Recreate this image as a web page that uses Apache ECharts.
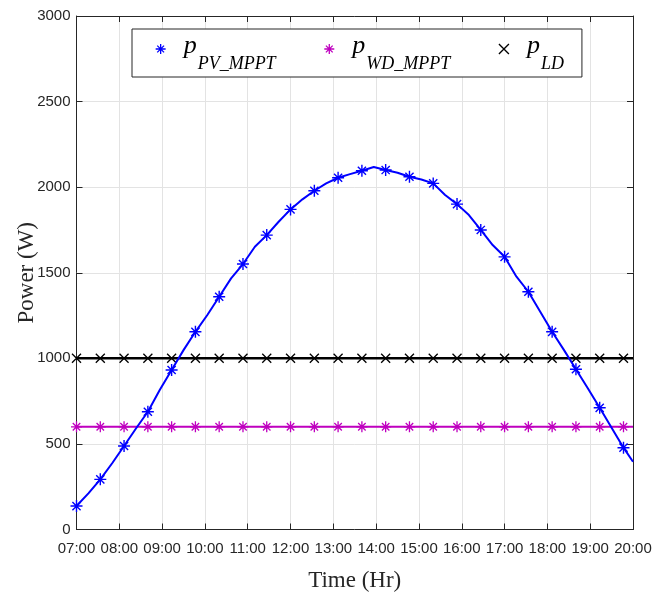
<!DOCTYPE html>
<html>
<head>
<meta charset="utf-8">
<script src="https://cdn.jsdelivr.net/npm/echarts@6/dist/echarts.min.js"></script>
<style>
html,body{margin:0;padding:0;background:#fff;}
#chart{width:652px;height:593px;}
</style>
</head>
<body>
<div id="chart"></div>
<script>
// ---- data (time in hours, power in W) ----
var xTickLabels = ['07:00','08:00','09:00','10:00','11:00','12:00','13:00','14:00','15:00','16:00','17:00','18:00','19:00','20:00'];
var yTickValues = [0, 500, 1000, 1500, 2000, 2500, 3000];

var markerTimes = [7.000, 7.556, 8.111, 8.667, 9.222, 9.778, 10.333, 10.889, 11.444, 12.000, 12.556, 13.111,
                   13.667, 14.222, 14.778, 15.333, 15.889, 16.444, 17.000, 17.556, 18.111, 18.667, 19.222, 19.778];
var pvAtMarkers = [137, 293, 488, 688, 932, 1155, 1360, 1551, 1720, 1870, 1979, 2055,
                   2096, 2100, 2061, 2022, 1901, 1750, 1593, 1389, 1155, 936, 711, 478];
var midTimes = [7.278, 7.833, 8.389, 8.944, 9.500, 10.056, 10.611, 11.167, 11.722, 12.278, 12.833, 13.389,
                13.944, 14.500, 15.056, 15.611, 16.167, 16.722, 17.278, 17.833, 18.389, 18.944, 19.500, 20.000];
var pvAtMids = [211, 387, 590, 815, 1048, 1253, 1467, 1652, 1798, 1929, 2022, 2076,
                2118, 2084, 2045, 1954, 1837, 1662, 1477, 1272, 1048, 825, 595, 396];
var wdAtMarkers = [600, 600, 600, 600, 600, 600, 600, 600, 600, 600, 600, 600,
                   600, 600, 600, 600, 600, 600, 600, 600, 600, 600, 600, 600];
var ldAtMarkers = [1000, 1000, 1000, 1000, 1000, 1000, 1000, 1000, 1000, 1000, 1000, 1000,
                   1000, 1000, 1000, 1000, 1000, 1000, 1000, 1000, 1000, 1000, 1000, 1000];
var endTime = 20.0;
var wdEnd = 600;
var ldEnd = 1000;
var seriesNames = ['p_PV_MPPT', 'p_WD_MPPT', 'p_LD'];

// ---- build ----
var STAR = 'path://M5,0L5,10M0,5L10,5M1.6,1.6L8.4,8.4M1.6,8.4L8.4,1.6';
var CROSS = 'path://M0,0L10,10M0,10L10,0';

function merge(mt, mv, ot, ov, sym) {
  var pts = [];
  mt.forEach(function (t, i) { pts.push({ value: [t, mv[i]], symbol: sym }); });
  ot.forEach(function (t, i) { pts.push({ value: [t, ov[i]], symbol: 'none' }); });
  pts.sort(function (a, b) { return a.value[0] - b.value[0]; });
  return pts;
}
var pvData = merge(markerTimes, pvAtMarkers, midTimes, pvAtMids, STAR);
var wdData = merge(markerTimes, wdAtMarkers, [endTime], [wdEnd], STAR);
var ldData = merge(markerTimes, ldAtMarkers, [endTime], [ldEnd], CROSS);

var BLUE = '#0000ff', MAG = '#bf00bf', BLK = '#000000';
var tickFont = '"Liberation Sans", Arial, sans-serif';
var serif = '"Liberation Serif", "Times New Roman", serif';

var chart = echarts.init(document.getElementById('chart'), null, { renderer: 'canvas' });
var axisLineStyle = { color: '#262626', width: 1 };
var option = {
  animation: false,
  backgroundColor: '#fff',
  grid: { left: 76.5, right: 19, top: 16, bottom: 63.5, containLabel: false, outerBoundsMode: 'none' },
  legend: {
    left: 132, top: 29,
    orient: 'horizontal',
    backgroundColor: '#fff',
    borderColor: '#262626', borderWidth: 1,
    padding: [4, 18, 4, 23],
    itemGap: 48,
    itemWidth: 10, itemHeight: 10,
    data: [
      { name: seriesNames[0], icon: STAR, itemStyle: { color: BLUE, borderColor: BLUE, borderWidth: 1.3 } },
      { name: seriesNames[1], icon: STAR, itemStyle: { color: MAG, borderColor: MAG, borderWidth: 1.3 } },
      { name: seriesNames[2], icon: CROSS, itemStyle: { color: BLK, borderColor: BLK, borderWidth: 1.3 } }
    ],
    formatter: function (n) { return '{p|p}{s|' + n.slice(2) + '}'; },
    textStyle: {
      rich: {
        p: { fontFamily: serif, fontStyle: 'italic', fontSize: 26, color: '#000', padding: [8, 1, 14, 13], verticalAlign: 'bottom' },
        s: { fontFamily: serif, fontStyle: 'italic', fontSize: 18, color: '#000', verticalAlign: 'bottom' }
      }
    }
  },
  xAxis: [{
    type: 'value', min: 7, max: 20, interval: 1, position: 'bottom',
    name: 'Time (Hr)', nameLocation: 'middle', nameGap: 40, nameMoveOverlap: false,
    nameTextStyle: { fontFamily: serif, fontSize: 23, color: '#262626' },
    axisLine: { onZero: false, lineStyle: axisLineStyle },
    axisTick: { inside: true, length: 6, lineStyle: axisLineStyle },
    axisLabel: { fontFamily: tickFont, fontSize: 15, color: '#262626', margin: 12,
      showMinLabel: true, showMaxLabel: true, hideOverlap: false,
      formatter: function (v) { return xTickLabels[Math.round(v - 7)]; } },
    splitLine: { show: true, lineStyle: { color: '#e3e3e3', width: 1 } }
  }, {
    type: 'value', min: 7, max: 20, interval: 1, position: 'top',
    axisLine: { onZero: false, lineStyle: axisLineStyle },
    axisTick: { inside: true, length: 6, lineStyle: axisLineStyle },
    axisLabel: { show: false }, splitLine: { show: false }
  }],
  yAxis: [{
    type: 'value', min: 0, max: 3000, interval: 500, position: 'left',
    name: 'Power (W)', nameLocation: 'middle', nameGap: 38, nameMoveOverlap: false,
    nameTextStyle: { fontFamily: serif, fontSize: 23, color: '#262626' },
    axisLine: { show: true, onZero: false, lineStyle: axisLineStyle },
    axisTick: { show: true, inside: true, length: 6, lineStyle: axisLineStyle },
    axisLabel: { fontFamily: tickFont, fontSize: 15, color: '#262626', margin: 6,
      showMinLabel: true, showMaxLabel: true,
      formatter: function (v) { return yTickValues.indexOf(v) >= 0 ? String(v) : ''; } },
    splitLine: { show: true, lineStyle: { color: '#e3e3e3', width: 1 } }
  }, {
    type: 'value', min: 0, max: 3000, interval: 500, position: 'right',
    axisLine: { show: true, onZero: false, lineStyle: axisLineStyle },
    axisTick: { show: true, inside: true, length: 6, lineStyle: axisLineStyle },
    axisLabel: { show: false }, splitLine: { show: false }
  }],
  series: [
    {
      name: seriesNames[1], type: 'line', data: wdData, symbolSize: 11, showAllSymbol: true, z: 3,
      lineStyle: { color: MAG, width: 2 },
      itemStyle: { color: MAG, borderColor: MAG, borderWidth: 1.3 }
    },
    {
      name: seriesNames[2], type: 'line', data: ldData, symbolSize: 9, showAllSymbol: true, z: 4,
      lineStyle: { color: BLK, width: 2.5 },
      itemStyle: { color: BLK, borderColor: BLK, borderWidth: 1.3 }
    },
    {
      name: seriesNames[0], type: 'line', data: pvData, symbolSize: 12, showAllSymbol: true, z: 5,
      lineStyle: { color: BLUE, width: 2 },
      itemStyle: { color: BLUE, borderColor: BLUE, borderWidth: 1.4 }
    }
  ]
};
chart.setOption(option);
</script>
</body>
</html>
